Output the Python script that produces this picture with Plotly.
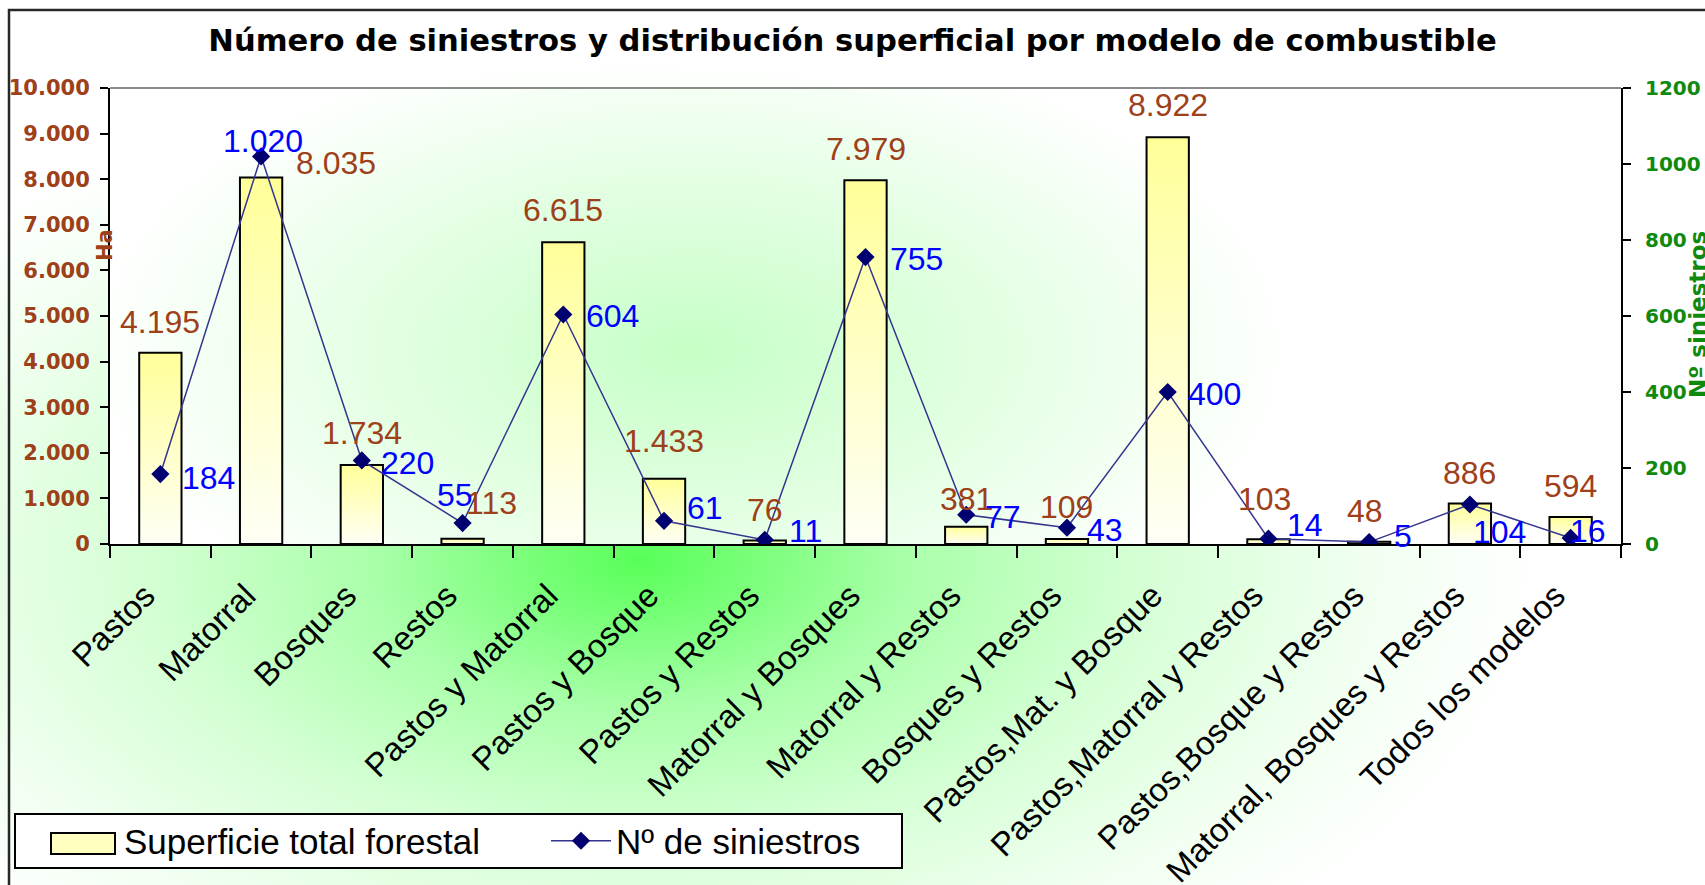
import base64
import plotly.graph_objects as go

# Fuel models and their totals
categorias = [
    "Pastos", "Matorral", "Bosques", "Restos", "Pastos y Matorral",
    "Pastos y Bosque", "Pastos y Restos", "Matorral y Bosques",
    "Matorral y Restos", "Bosques y Restos", "Pastos,Mat. y Bosque",
    "Pastos,Matorral y Restos", "Pastos,Bosque y Restos",
    "Matorral, Bosques y Restos", "Todos los modelos",
]
superficie_ha = [4195, 8035, 1734, 113, 6615, 1433, 76, 7979, 381, 109, 8922, 103, 48, 886, 594]
n_siniestros = [184, 1020, 220, 55, 604, 61, 11, 755, 77, 43, 400, 14, 5, 104, 16]

# Label offsets in pixels (dx right, dy up) relative to the bar top / line point
bar_lbl_dx = [0, 75, 0, 29, 0, 0, 0, 0, 0, 0, 0, -4, -4, 0, 0]
bar_lbl_dy = [31, 15, 32, 36, 32, 38, 31, 31, 28, 32, 32, 40, 31, 31, 31]
line_lbl_dx = [48, 2, 46, -8, 49, 41, 41, 51, 37, 38, 47, 37, 34, 30, 17]
line_lbl_dy = [-4, 15, -3, 28, -2, 13, 9, -2, -2, -2, -2, 14, 6, -28, 7]

W, H = 1705, 885
ML, MR, MT, MB = 110, 84, 88, 341
PW, PH = W - ML - MR, H - MT - MB
BAR_W = 0.42

BROWN = "#9E401A"
GREEN = "#0F8A0F"
BLUE = "#0000FF"
NAVY = "#000070"
LABEL_FONT = "Liberation Sans, Arial"

# Legend frame and swatch (pixels from the top-left corner of the page)
LEG_BOX = (15, 814, 902, 868)
LEG_SWATCH = (51, 833, 115, 854)


def miles(v):
    return f"{v:,}".replace(",", ".")


def px_x(px):
    return (px - ML) / PW


def px_y(py):
    return (MT + PH - py) / PH


def svg_uri(svg):
    return "data:image/svg+xml;base64," + base64.b64encode(svg.encode("utf-8")).decode("ascii")


# Chart area: radial green glow centred just under the category axis, plus the outer frame
chart_bg = svg_uri(f"""<svg xmlns="http://www.w3.org/2000/svg" width="{W}" height="{H}" viewBox="0 0 {W} {H}">
<defs>
<radialGradient id="pg" gradientUnits="userSpaceOnUse" cx="0" cy="0" r="1" gradientTransform="translate(640 560) scale(900 500)">
<stop offset="0" stop-color="rgb(88,255,88)"/>
<stop offset="0.1" stop-color="rgb(115,255,115)"/>
<stop offset="0.3" stop-color="rgb(170,255,170)"/>
<stop offset="0.55" stop-color="rgb(212,255,212)"/>
<stop offset="0.8" stop-color="rgb(240,255,240)"/>
<stop offset="1" stop-color="rgb(255,255,255)"/>
</radialGradient>
</defs>
<rect width="{W}" height="{H}" fill="url(#pg)"/>
<rect x="9" y="10" width="{W + 200}" height="{H + 200}" fill="none" stroke="rgb(40,40,40)" stroke-width="2.5"/>
</svg>""")

# Plot area: a softer glow of its own
plot_bg = svg_uri(f"""<svg xmlns="http://www.w3.org/2000/svg" width="{PW}" height="{PH}" viewBox="0 0 {PW} {PH}">
<defs>
<radialGradient id="ag" gradientUnits="userSpaceOnUse" cx="0" cy="0" r="1" gradientTransform="translate({690 - ML} {350 - MT}) scale(600 320)">
<stop offset="0" stop-color="rgb(198,255,198)"/>
<stop offset="0.5" stop-color="rgb(226,255,226)"/>
<stop offset="1" stop-color="rgb(255,255,255)"/>
</radialGradient>
</defs>
<rect width="{PW}" height="{PH}" fill="url(#ag)"/>
</svg>""")

fig = go.Figure()

# Bars with a vertical yellow-to-white fill
for i, v in enumerate(superficie_ha):
    x0, x1 = i - BAR_W / 2, i + BAR_W / 2
    fig.add_trace(go.Scatter(
        x=[x0, x0, x1, x1, x0], y=[0, v, v, 0, 0],
        mode="lines", fill="toself",
        fillgradient=dict(type="vertical", colorscale=[[0, "#fffff6"], [1, "#ffff99"]]),
        line=dict(color="black", width=2),
        name="Superficie total forestal", legendgroup="sup",
        showlegend=False, hoverinfo="skip",
    ))

# Legend entry for the bars (its swatch is the framed box drawn in the layout)
fig.add_trace(go.Scatter(
    x=[None], y=[None], mode="lines",
    line=dict(color="rgba(0,0,0,0)", width=0),
    name="Superficie total forestal", legendgroup="sup", showlegend=True,
))

fig.add_trace(go.Scatter(
    x=list(range(len(categorias))), y=n_siniestros, yaxis="y2",
    mode="lines+markers",
    line=dict(color="#35358F", width=1.5),
    marker=dict(symbol="diamond", size=14, color=NAVY),
    name="Nº de siniestros",
))

annotations = []
for i, v in enumerate(superficie_ha):
    annotations.append(dict(
        x=i, y=v, xref="x", yref="y", text=miles(v), showarrow=False,
        xanchor="center", yanchor="middle",
        xshift=bar_lbl_dx[i], yshift=bar_lbl_dy[i],
        font=dict(family=LABEL_FONT, size=32, color=BROWN),
    ))
for i, v in enumerate(n_siniestros):
    annotations.append(dict(
        x=i, y=v, xref="x", yref="y2", text=miles(v), showarrow=False,
        xanchor="center", yanchor="middle",
        xshift=line_lbl_dx[i], yshift=line_lbl_dy[i],
        font=dict(family=LABEL_FONT, size=32, color=BLUE),
    ))

# Axis titles
annotations.append(dict(
    text="Ha", xref="paper", yref="paper", x=0, y=px_y(245), xshift=-5,
    showarrow=False, textangle=-90, xanchor="center", yanchor="middle",
    font=dict(family="DejaVu Sans", size=21, color=BROWN, weight="bold"),
))
annotations.append(dict(
    text="Nº siniestros", xref="paper", yref="paper", x=1, y=px_y(315),
    xshift=77, showarrow=False, textangle=-90, xanchor="center", yanchor="middle",
    font=dict(family="DejaVu Sans", size=23, color=GREEN, weight="bold"),
))

fig.update_layout(
    width=W, height=H,
    margin=dict(l=ML, r=MR, t=MT, b=MB, autoexpand=False),
    paper_bgcolor="rgba(0,0,0,0)", plot_bgcolor="rgba(0,0,0,0)",
    separators=",.",
    title=dict(
        text="Número de siniestros y distribución superficial por modelo de combustible",
        x=0.5, xanchor="center", xref="container", y=1 - 40 / H, yref="container", yanchor="middle",
        font=dict(family="DejaVu Sans", size=30.6, color="black", weight="bold"),
    ),
    xaxis=dict(
        range=[-0.5, len(categorias) - 0.5],
        tickmode="array", tickvals=list(range(len(categorias))), ticktext=categorias,
        tickangle=-45, ticks="",
        ticklabelshift=-15, ticklabelstandoff=17,
        tickfont=dict(family=LABEL_FONT, size=33, color="black"),
        minor=dict(tickmode="array", tickvals=[k - 0.5 for k in range(len(categorias) + 1)],
                   ticks="outside", ticklen=12, tickwidth=2, tickcolor="black"),
        showline=True, linecolor="black", linewidth=2,
        showgrid=False, zeroline=False, fixedrange=True,
    ),
    yaxis=dict(
        range=[0, 10000], dtick=1000, tickformat=",d",
        ticks="outside", ticklen=8, tickwidth=2, tickcolor="black",
        ticklabelstandoff=6,
        tickfont=dict(family="DejaVu Sans", size=21, color=BROWN, weight="bold"),
        showline=True, linecolor="black", linewidth=2,
        showgrid=False, zeroline=False,
    ),
    yaxis2=dict(
        range=[0, 1200], dtick=200, tickformat="d", overlaying="y", side="right",
        ticks="outside", ticklen=8, tickwidth=2, tickcolor="black",
        ticklabelstandoff=10,
        tickfont=dict(family="DejaVu Sans", size=20, color=GREEN, weight="bold"),
        showline=True, linecolor="black", linewidth=2,
        showgrid=False, zeroline=False,
    ),
    legend=dict(
        orientation="h", x=px_x(54), xanchor="left",
        y=px_y(841), yanchor="middle",
        bgcolor="rgba(0,0,0,0)", borderwidth=0,
        itemwidth=60, entrywidth=417, entrywidthmode="pixels",
        font=dict(family=LABEL_FONT, size=35, color="black"),
        traceorder="normal",
    ),
    images=[
        dict(source=chart_bg, xref="paper", yref="paper",
             x=-ML / PW, y=1 + MT / PH, sizex=W / PW, sizey=H / PH,
             xanchor="left", yanchor="top", sizing="stretch", layer="below"),
        dict(source=plot_bg, xref="paper", yref="paper",
             x=0, y=1, sizex=1, sizey=1,
             xanchor="left", yanchor="top", sizing="stretch", layer="below"),
    ],
    shapes=[
        dict(type="line", xref="paper", yref="paper", x0=0, x1=1, y0=1, y1=1,
             line=dict(color="#8a8a8a", width=2)),
        dict(type="rect", xref="paper", yref="paper",
             x0=px_x(LEG_BOX[0]), x1=px_x(LEG_BOX[2]),
             y0=px_y(LEG_BOX[1]), y1=px_y(LEG_BOX[3]),
             fillcolor="white", line=dict(color="black", width=2), layer="below"),
        dict(type="rect", xref="paper", yref="paper",
             x0=px_x(LEG_SWATCH[0]), x1=px_x(LEG_SWATCH[2]),
             y0=px_y(LEG_SWATCH[1]), y1=px_y(LEG_SWATCH[3]),
             fillcolor="#ffffbf", line=dict(color="black", width=2), layer="above"),
    ],
    annotations=annotations,
    showlegend=True,
)

fig.write_html("out.html")
